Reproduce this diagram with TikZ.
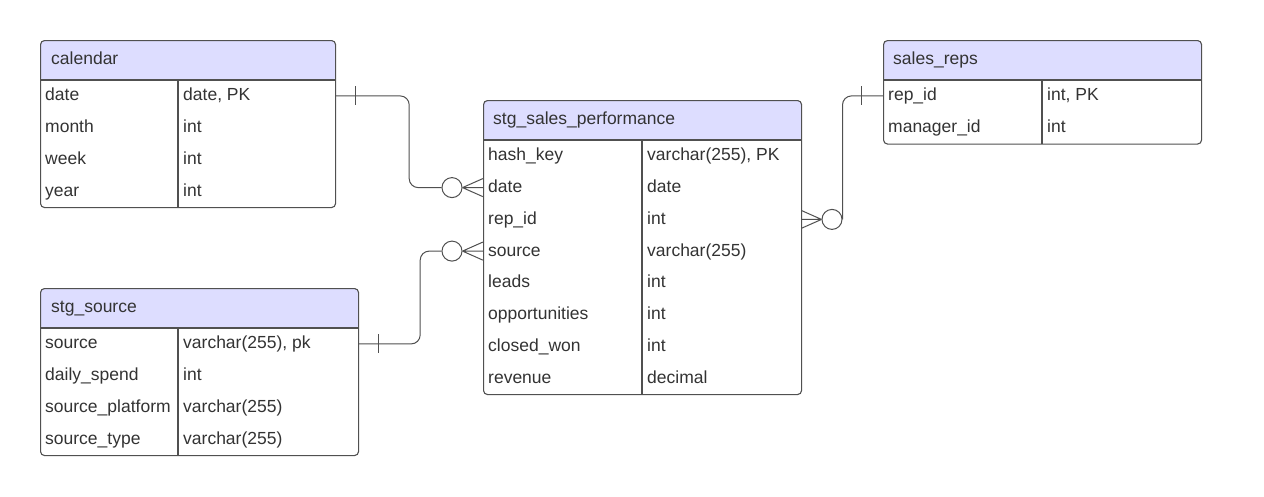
\documentclass[tikz,border=0pt]{standalone}
\usepackage{fontspec}
\setmainfont{Liberation Sans}
\definecolor{hdrfill}{RGB}{221,221,255}
\definecolor{bordercol}{RGB}{80,80,80}
\definecolor{txtcol}{RGB}{51,51,51}
\begin{document}
\begin{tikzpicture}[x=1pt,y=-1pt,
  tbl/.style={draw=bordercol, line width=1.1pt, rounded corners=4pt, inner sep=0pt, anchor=north west,
    path picture={\fill[hdrfill] ([yshift=1pt]path picture bounding box.north west) rectangle ([yshift=-40pt]path picture bounding box.north east);}},
  sep/.style={draw=bordercol, line width=1.1pt},
  rowbox/.style={inner sep=0pt, minimum height=31.75pt},
  txt/.style={anchor=base west, inner sep=0pt, text=txtcol, font=\fontsize{17.5}{21}\selectfont},
  conn/.style={draw=bordercol, line width=1pt},
  zero/.style={circle, draw=bordercol, line width=1pt, fill=white, minimum size=20pt, inner sep=0pt}
]
\useasboundingbox[fill=white] (0,0) rectangle (1264,496);

% ---------------- calendar ----------------
\node[tbl, minimum width=295pt, minimum height=167pt] (cal) at (40,40) {};
\draw[sep] (40,80) -- (335,80);
\draw[sep] (178,80) -- (178,207);
\node[txt] (calT) at (51,64.5) {calendar};
\node[rowbox, minimum width=295pt] (calDate) at (187.5,95.9) {};
\node[rowbox, minimum width=295pt] (calMonth) at (187.5,127.6) {};
\node[rowbox, minimum width=295pt] (calWeek) at (187.5,159.4) {};
\node[rowbox, minimum width=295pt] (calYear) at (187.5,191.1) {};
\node[txt] (calDateA) at (45,100.9) {date};
\node[txt] (calDateB) at (183,100.9) {date, PK};
\node[txt] (calMonthA) at (45,132.6) {month};
\node[txt] (calMonthB) at (183,132.6) {int};
\node[txt] (calWeekA) at (45,164.4) {week};
\node[txt] (calWeekB) at (183,164.4) {int};
\node[txt] (calYearA) at (45,196.1) {year};
\node[txt] (calYearB) at (183,196.1) {int};

% ---------------- stg_source ----------------
\node[tbl, minimum width=318pt, minimum height=167pt] (src) at (40,288) {};
\draw[sep] (40,328) -- (358,328);
\draw[sep] (178,328) -- (178,455);
\node[txt] (srcT) at (51,312.5) {stg\_source};
\node[rowbox, minimum width=318pt] (srcSource) at (199,343.9) {};
\node[rowbox, minimum width=318pt] (srcSpend) at (199,375.6) {};
\node[rowbox, minimum width=318pt] (srcPlat) at (199,407.4) {};
\node[rowbox, minimum width=318pt] (srcType) at (199,439.1) {};
\node[txt] (srcSourceA) at (45,348.9) {source};
\node[txt] (srcSourceB) at (183,348.9) {varchar(255), pk};
\node[txt] (srcSpendA) at (45,380.6) {daily\_spend};
\node[txt] (srcSpendB) at (183,380.6) {int};
\node[txt] (srcPlatA) at (45,412.4) {source\_platform};
\node[txt] (srcPlatB) at (183,412.4) {varchar(255)};
\node[txt] (srcTypeA) at (45,444.1) {source\_type};
\node[txt] (srcTypeB) at (183,444.1) {varchar(255)};

% ---------------- stg_sales_performance ----------------
\node[tbl, minimum width=318pt, minimum height=294pt] (sp) at (483,100) {};
\draw[sep] (483,140) -- (801,140);
\draw[sep] (642,140) -- (642,394);
\node[txt] (spT) at (493,124.5) {stg\_sales\_performance};
\node[rowbox, minimum width=318pt] (spHash) at (642,155.9) {};
\node[rowbox, minimum width=318pt] (spDate) at (642,187.6) {};
\node[rowbox, minimum width=318pt] (spRep) at (642,219.4) {};
\node[rowbox, minimum width=318pt] (spSource) at (642,251.1) {};
\node[txt] (spHashA) at (488,160.9) {hash\_key};
\node[txt] (spHashB) at (647,160.9) {varchar(255), PK};
\node[txt] (spDateA) at (488,192.6) {date};
\node[txt] (spDateB) at (647,192.6) {date};
\node[txt] (spRepA) at (488,224.4) {rep\_id};
\node[txt] (spRepB) at (647,224.4) {int};
\node[txt] (spSourceA) at (488,256.1) {source};
\node[txt] (spSourceB) at (647,256.1) {varchar(255)};
\node[txt] (spLeadsA) at (488,287.9) {leads};
\node[txt] (spLeadsB) at (647,287.9) {int};
\node[txt] (spOppA) at (488,319.6) {opportunities};
\node[txt] (spOppB) at (647,319.6) {int};
\node[txt] (spWonA) at (488,351.4) {closed\_won};
\node[txt] (spWonB) at (647,351.4) {int};
\node[txt] (spRevA) at (488,383.1) {revenue};
\node[txt] (spRevB) at (647,383.1) {decimal};

% ---------------- sales_reps ----------------
\node[tbl, minimum width=318pt, minimum height=103.5pt] (sr) at (883,40) {};
\draw[sep] (883,80) -- (1201,80);
\draw[sep] (1042,80) -- (1042,143.5);
\node[txt] (srT) at (893,64.5) {sales\_reps};
\node[rowbox, minimum width=318pt] (srRep) at (1042,95.9) {};
\node[rowbox, minimum width=318pt] (srMgr) at (1042,127.6) {};
\node[txt] (srRepA) at (888,100.9) {rep\_id};
\node[txt] (srRepB) at (1047,100.9) {int, PK};
\node[txt] (srMgrA) at (888,132.6) {manager\_id};
\node[txt] (srMgrB) at (1047,132.6) {int};

% ---------------- connectors ----------------
% calendar.date -> stg_sales_performance.date
\node[zero] (c1) at (452,187.6) {};
\draw[conn, rounded corners=9pt] (calDate.east) -- ++(74,0) |- (c1.west);
\draw[conn] ([xshift=20pt,yshift=9.5pt]calDate.east) -- ([xshift=20pt,yshift=-9.5pt]calDate.east);
\draw[conn] (c1.east) -- ([yshift=9pt]spDate.west)
            (c1.east) -- (spDate.west)
            (c1.east) -- ([yshift=-9pt]spDate.west);

% sales_reps.rep_id -> stg_sales_performance.rep_id
\node[zero] (c2) at (832,219.4) {};
\draw[conn, rounded corners=9pt] (srRep.west) -| (c2.east);
\draw[conn] ([xshift=-21pt,yshift=9.5pt]srRep.west) -- ([xshift=-21pt,yshift=-9.5pt]srRep.west);
\draw[conn] (c2.west) -- ([yshift=9pt]spRep.east)
            (c2.west) -- (spRep.east)
            (c2.west) -- ([yshift=-9pt]spRep.east);

% stg_source.source -> stg_sales_performance.source
\node[zero] (c3) at (452,251.1) {};
\draw[conn, rounded corners=9pt] (srcSource.east) -- ++(62,0) |- (c3.west);
\draw[conn] ([xshift=20pt,yshift=9.5pt]srcSource.east) -- ([xshift=20pt,yshift=-9.5pt]srcSource.east);
\draw[conn] (c3.east) -- ([yshift=9pt]spSource.west)
            (c3.east) -- (spSource.west)
            (c3.east) -- ([yshift=-9pt]spSource.west);
\end{tikzpicture}
\end{document}
